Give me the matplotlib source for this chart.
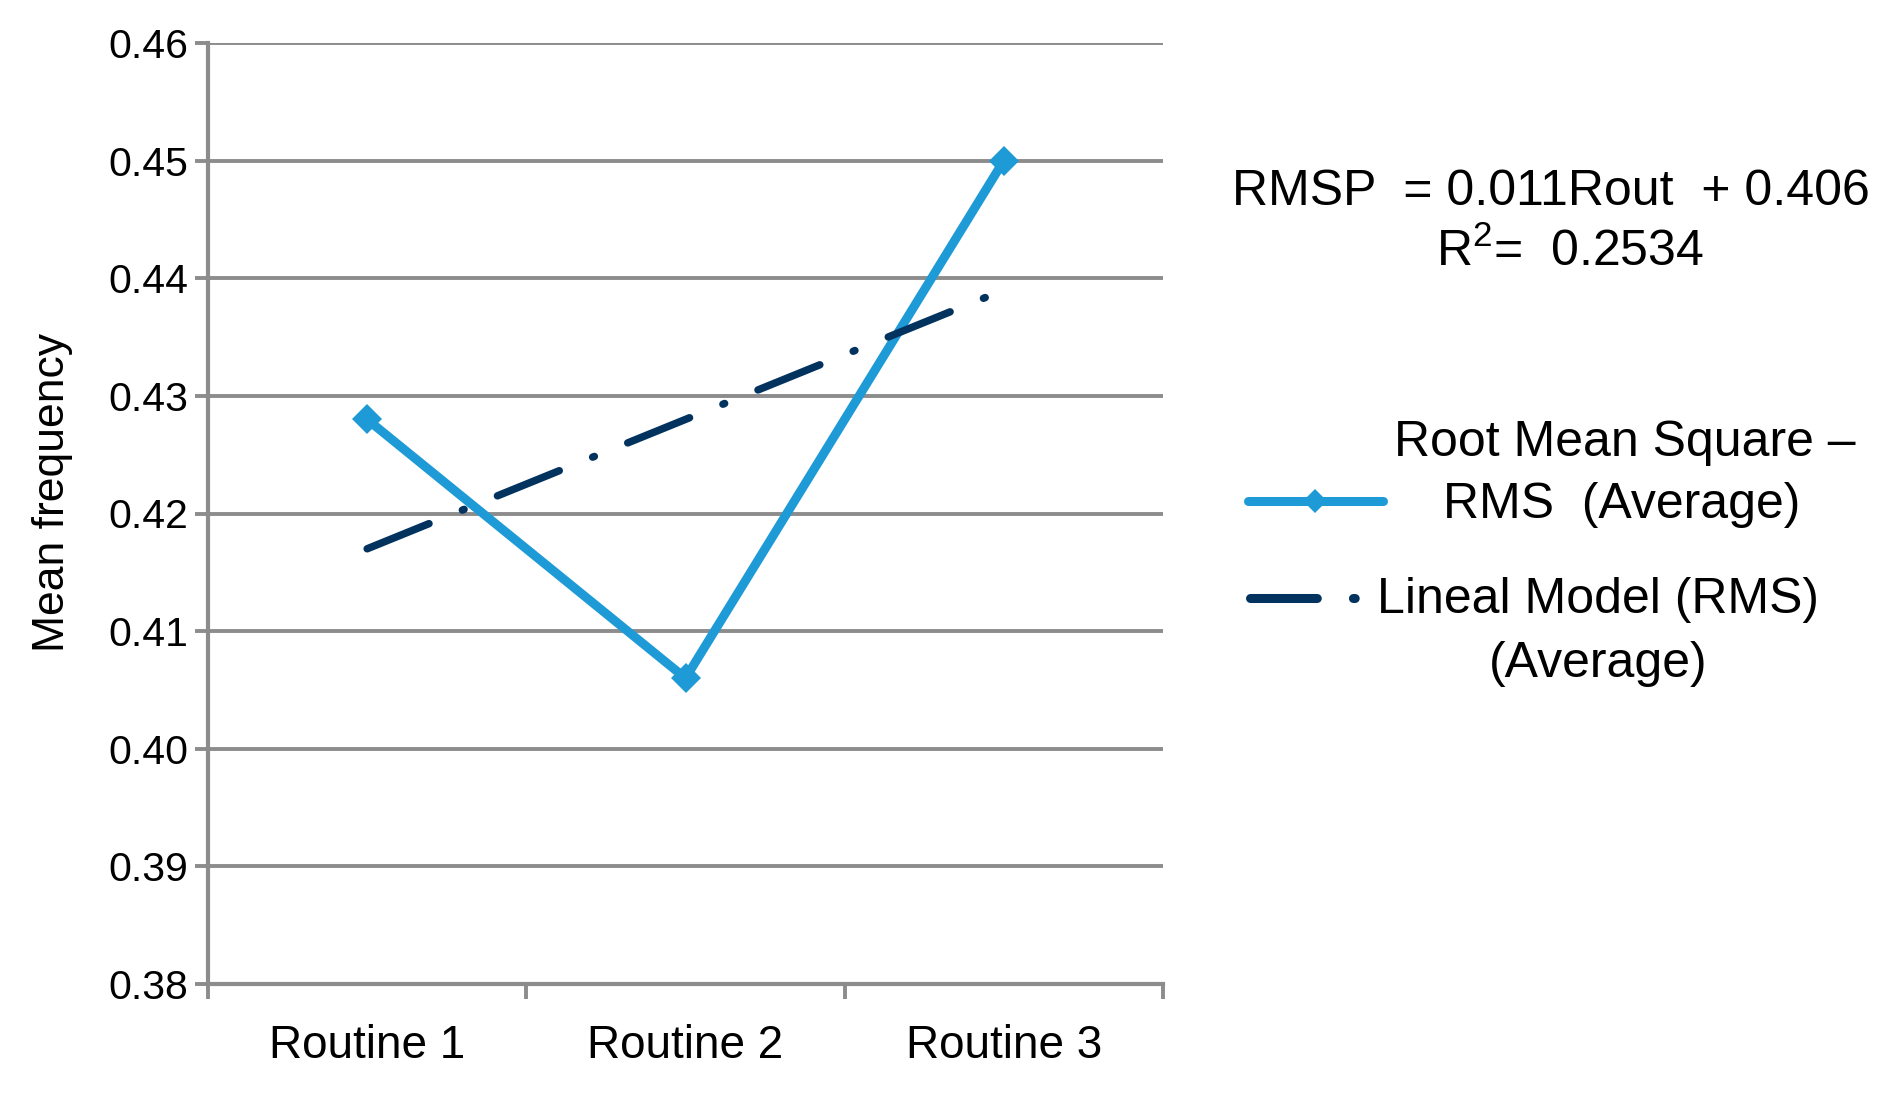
import matplotlib
matplotlib.use("Agg")
from matplotlib import pyplot as plt
from matplotlib.lines import Line2D

plt.rcParams["font.family"] = ["Liberation Sans", "DejaVu Sans"]
plt.rcParams["mathtext.fontset"] = "custom"
plt.rcParams["mathtext.rm"] = "Liberation Sans"

# --------
# Data
# --------
routines = ["Routine 1", "Routine 2", "Routine 3"]
rms_average = [0.428, 0.406, 0.450]
linear_model = [0.417, 0.428, 0.439]
y_ticks = [0.38, 0.39, 0.40, 0.41, 0.42, 0.43, 0.44, 0.45, 0.46]

equation_text = "RMSP  = 0.011Rout  + 0.406"
r2_text = "R$^{\\mathrm{2}}$=  0.2534"
rms_label = ["Root Mean Square \u2013", "RMS  (Average)"]
model_label = ["Lineal Model (RMS)", "(Average)"]

# ------
# Styles
# ------
blue = "#1E9BD7"
navy = "#02335F"
grey = "#8C8C8C"
dash_dot = (0, (8.9, 4.8, 0.25, 4.8))

W, H = 1896, 1094
fig = plt.figure(figsize=(W / 100, H / 100), dpi=100)
ax = fig.add_axes([208 / W, 1 - 984 / H, 955 / W, 941 / H])

x = list(range(1, len(routines) + 1))

ax.plot(x, rms_average, color=blue, lw=6.5, marker="D", ms=15,
        mew=0, solid_joinstyle="miter", zorder=3)
ax.plot(x, linear_model, color=navy, lw=5.4, linestyle=dash_dot,
        dash_capstyle="round", zorder=4)

ax.set_xlim(0.5, len(routines) + 0.5)
ax.set_ylim(y_ticks[0], y_ticks[-1])
ax.set_yticks(y_ticks)
ax.set_yticklabels([f"{v:.2f}" for v in y_ticks])
ax.set_xticks([i + 0.5 for i in range(len(routines) + 1)])
ax.set_xticklabels([])
ax.set_xticks(x, minor=True)
ax.set_xticklabels(routines, minor=True)

ax.grid(axis="y", color=grey, lw=2.8, zorder=1)
ax.set_axisbelow(True)
for side in ["top", "right"]:
    ax.spines[side].set_visible(False)
for side in ["left", "bottom"]:
    ax.spines[side].set_color(grey)
    ax.spines[side].set_linewidth(3.0)

ax.tick_params(axis="y", which="major", length=9.5, width=2.8, color=grey,
               pad=4.5, labelsize=29.5)
ax.tick_params(axis="x", which="major", length=11, width=2.8, color=grey)
ax.tick_params(axis="x", which="minor", length=0, pad=28.5, labelsize=33)

ax.set_ylabel("Mean frequency", fontsize=32, va="center", ha="center")
ax.yaxis.set_label_coords(-0.163, 0.522)

# trend-line equation
fig.text(1551 / W, 1 - 205 / H, equation_text, fontsize=36,
         ha="center", va="baseline")
fig.text(1570 / W, 1 - 266 / H, r2_text, fontsize=36,
         ha="center", va="baseline")

# legend, laid out as in the original
fig.text(1625 / W, 1 - 456 / H, rms_label[0], fontsize=36,
         ha="center", va="baseline")
fig.text(1622 / W, 1 - 518 / H, rms_label[1], fontsize=36,
         ha="center", va="baseline")
fig.text(1598 / W, 1 - 613 / H, model_label[0], fontsize=36,
         ha="center", va="baseline")
fig.text(1598 / W, 1 - 677 / H, model_label[1], fontsize=36,
         ha="center", va="baseline")

fig.add_artist(Line2D([1248 / W, 1315 / W, 1383 / W], [1 - 501 / H] * 3,
                      color=blue, lw=6.5, marker="D", ms=12, mew=0,
                      markevery=[1], solid_capstyle="round"))
fig.add_artist(Line2D([1250 / W, 1356 / W], [1 - 598 / H] * 2,
                      color=navy, lw=6.5, linestyle=(0, (7.4, 4.0, 0.2, 4.0)),
                      dash_capstyle="round"))

fig.savefig("out.png", dpi=100)
